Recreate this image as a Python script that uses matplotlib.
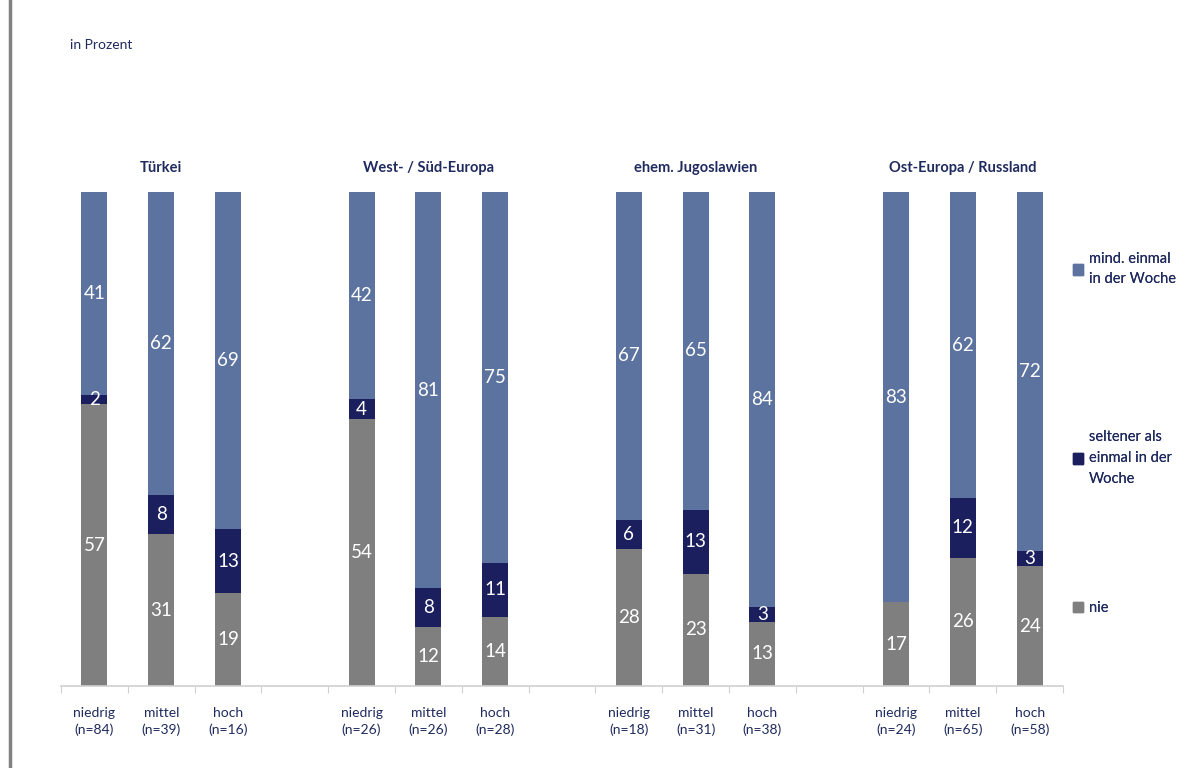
import matplotlib.pyplot as plt
import numpy as np
from matplotlib.patches import Patch
from matplotlib.lines import Line2D

plt.rcParams['font.family'] = ['Lato', 'DejaVu Sans']

# Daten (in Prozent)
gruppen = ['Türkei', 'West- / Süd-Europa', 'ehem. Jugoslawien', 'Ost-Europa / Russland']
stufen = ['niedrig', 'mittel', 'hoch']
n_werte = [[84, 39, 16], [26, 26, 28], [18, 31, 38], [24, 65, 58]]
nie = [57, 31, 19, 54, 12, 14, 28, 23, 13, 17, 26, 24]
selten = [2, 8, 13, 4, 8, 11, 6, 13, 3, 0, 12, 3]
mind = [41, 62, 69, 42, 81, 75, 67, 65, 84, 83, 62, 72]
legende = ['mind. einmal\nin der Woche', 'seltener als\neinmal in der\nWoche', 'nie']

c_mind = '#5B739E'
c_selten = '#1C1F5E'
c_nie = '#7F7F7F'
c_text = '#1F2A5E'

fig = plt.figure(figsize=(12.01, 7.68), dpi=100)
ax = fig.add_axes([61 / 1201, 82 / 768, 1002 / 1201, 494 / 768])

# Positionen: 3 Balken je Gruppe, eine Lücke dazwischen
x = np.array([g * 4 + i for g in range(len(gruppen)) for i in range(3)])

# 100%-gestapelt wie in Excel
nie_a = np.array(nie, float)
sel_a = np.array(selten, float)
min_a = np.array(mind, float)
summe = nie_a + sel_a + min_a
serien = [(nie_a / summe * 100, nie, c_nie),
          (sel_a / summe * 100, selten, c_selten),
          (min_a / summe * 100, mind, c_mind)]

w = 0.39
unten = np.zeros(len(x))
for hoehe, werte, farbe in serien:
    ax.bar(x, hoehe, w, bottom=unten, color=farbe, edgecolor='none')
    for xi, b, h, v in zip(x, unten, hoehe, werte):
        if v > 0:
            ax.text(xi, b + h / 2, str(v), ha='center', va='center',
                    color='white', fontsize=13.5)
    unten = unten + hoehe

ax.set_xlim(-0.5, 14.5)
ax.set_ylim(0, 100)

# Achsen
for s in ['top', 'right', 'left']:
    ax.spines[s].set_visible(False)
ax.spines['bottom'].set_color('#D0D0D0')
ax.spines['bottom'].set_linewidth(1.2)
ax.set_yticks([])

ax.set_xticks(np.arange(-0.5, 15, 1))
ax.tick_params(axis='x', which='major', length=5, color='#D0D0D0', labelbottom=False)
ax.set_xticks(x, minor=True)
labels = [f'{s}\n(n={n})' for gn in n_werte for s, n in zip(stufen, gn)]
ax.set_xticklabels(labels, minor=True)
ax.tick_params(axis='x', which='minor', length=0, pad=15, labelsize=10,
               labelcolor=c_text)
for t in ax.get_xticklabels(minor=True):
    t.set_linespacing(1.45)

# Gruppentitel
for g, name in enumerate(gruppen):
    ax.text(g * 4 + 1, 104.9, name, ha='center', va='center', fontsize=10.5,
            fontweight='bold', color=c_text, clip_on=False)

fig.text(70 / 1201, 1 - 45 / 768, 'in Prozent', ha='left', va='center',
         fontsize=10, color=c_text)

# Legende
leg_pos = [(1 - 269 / 768), (1 - 458 / 768), (1 - 608 / 768)]
leg_farben = [c_mind, c_selten, c_nie]
for lab, farbe, yp in zip(legende, leg_farben, leg_pos):
    lg = fig.legend(handles=[Patch(color=farbe)], labels=[lab],
                    loc='center left', bbox_to_anchor=(1060 / 1201, yp),
                    frameon=False, fontsize=10.5, handlelength=0.7,
                    handleheight=0.7, handletextpad=0.4, labelcolor=c_text)
    for t in lg.get_texts():
        t.set_linespacing(1.6)
    fig.add_artist(lg)

# linke Randlinie
fig.add_artist(Line2D([10 / 1201, 10 / 1201], [0, 1], color='#808080',
                      linewidth=2.5, transform=fig.transFigure))

fig.savefig('out.png', dpi=100, facecolor='white')
